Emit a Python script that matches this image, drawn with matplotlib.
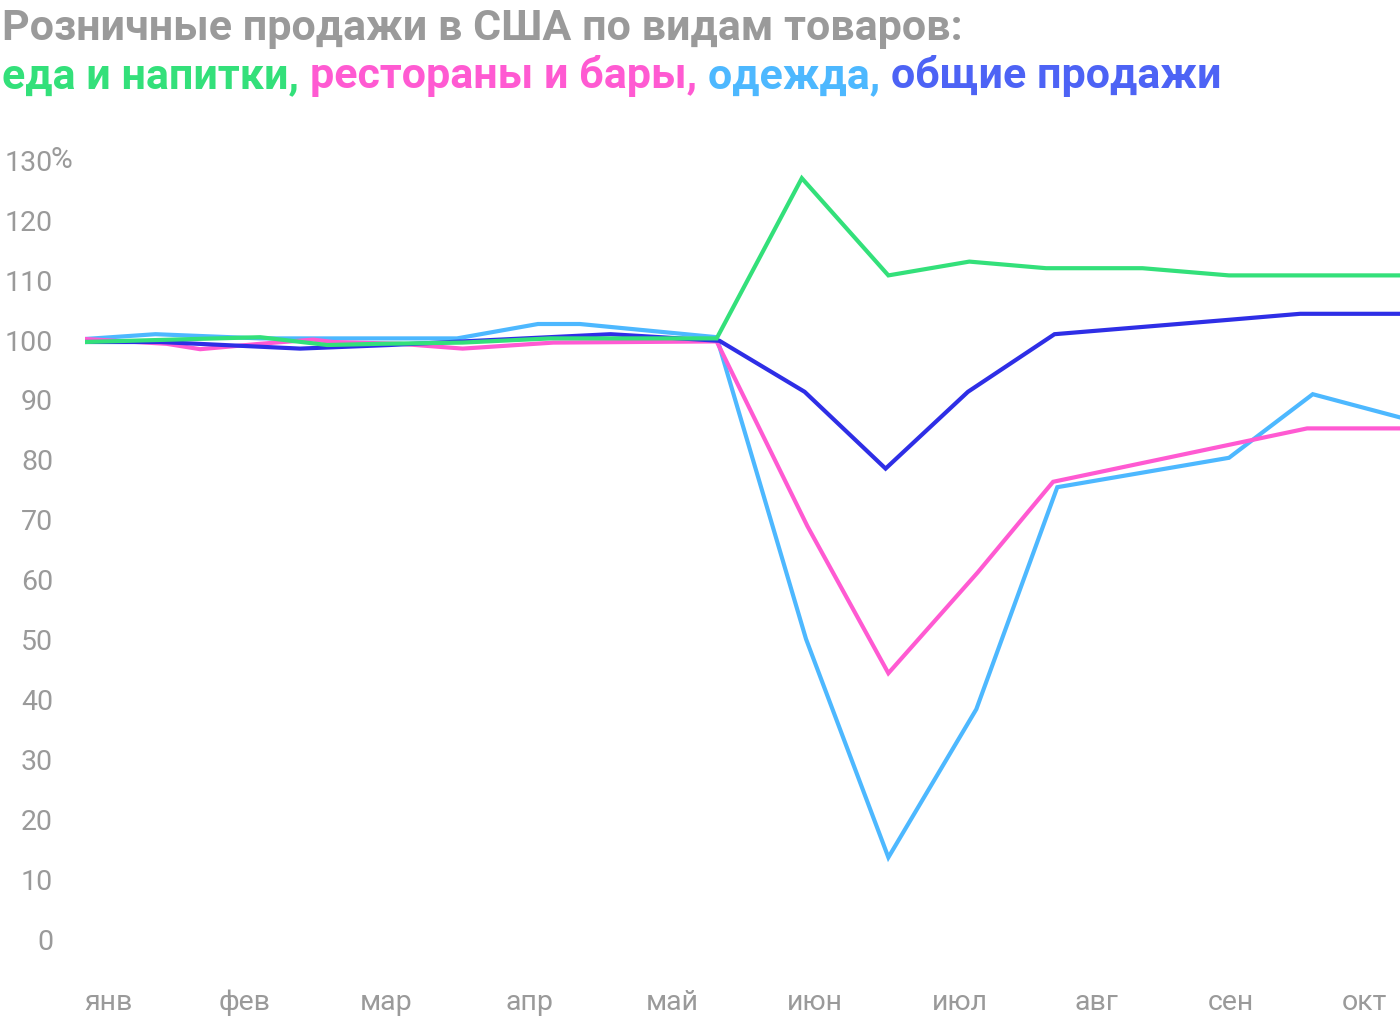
import matplotlib.pyplot as plt

# x is in months: 0 = янв label
months = ['янв', 'фев', 'мар', 'апр', 'май', 'июн', 'июл', 'авг', 'сен', 'окт']
month_pos = [0, 0.98, 1.99, 3.02, 4.04, 5.06, 6.10, 7.08, 8.04, 9.0]
yticks = [0, 10, 20, 30, 40, 50, 60, 70, 80, 90, 100, 110, 120, 130]

# еда и напитки
food_x = [-0.165, 1.09, 1.57, 1.95, 2.54, 3.17, 4.36, 4.97, 5.59, 6.17, 6.72, 7.41, 8.03, 9.26]
food_y = [99.5, 100.3, 99.0, 99.2, 99.4, 100.1, 100.1, 126.8, 110.6, 112.9, 111.8, 111.8, 110.6, 110.6]

# рестораны и бары
rest_x = [-0.165, 0.42, 0.66, 1.09, 1.47, 1.61, 2.09, 2.54, 3.19, 4.36, 5.01, 5.59, 6.23, 6.77, 8.59, 9.26]
rest_y = [100.0, 99.2, 98.3, 99.2, 99.9, 99.5, 99.2, 98.4, 99.4, 99.6, 68.8, 44.3, 61.1, 76.2, 85.1, 85.1]

# одежда
cloth_x = [-0.165, 0.34, 1.09, 2.50, 3.08, 3.38, 4.36, 5.00, 5.59, 6.22, 6.80, 8.03, 8.63, 9.26]
cloth_y = [100.0, 100.8, 100.1, 100.1, 102.5, 102.5, 100.3, 50.0, 13.6, 38.3, 75.3, 80.2, 90.8, 86.9]

# общие продажи
total_x = [-0.165, 0.37, 1.375, 2.02, 3.60, 4.38, 4.99, 5.57, 6.16, 6.78, 8.03, 8.54, 9.26]
total_y = [99.5, 99.5, 98.4, 99.0, 100.8, 99.7, 91.2, 78.4, 91.2, 100.8, 103.2, 104.2, 104.2]

GREEN = '#33e07a'
PINK = '#ff5ad2'
CYAN = '#4db8ff'
BLUE = '#2e2ee6'
BLUE_TXT = '#4d63f5'
GRAY = '#9a9a9a'

plt.rcParams['font.family'] = ['Roboto', 'DejaVu Sans']

W, H = 1400, 1020
fig = plt.figure(figsize=(W / 100, H / 100), dpi=100)
ax = fig.add_axes([85 / W, 80 / H, 1315 / W, 780 / H])

lw = 3.0
ax.plot(cloth_x, cloth_y, color=CYAN, lw=lw, solid_joinstyle='miter')
ax.plot(rest_x, rest_y, color=PINK, lw=lw, solid_joinstyle='miter')
ax.plot(total_x, total_y, color=BLUE, lw=lw, solid_joinstyle='miter')
ax.plot(food_x, food_y, color=GREEN, lw=lw, solid_joinstyle='miter')

ax.set_xlim(-0.165, 9.255)
ax.set_ylim(0, 130)
for s in ax.spines.values():
    s.set_visible(False)

# y labels right-aligned on the digits, "%" hangs after 130
ax.set_yticks(yticks)
ax.set_yticklabels([str(v) for v in yticks])
ax.tick_params(axis='y', length=0, pad=23, labelsize=20.5, labelcolor=GRAY)
ax.annotate('%', xy=(0, 130), xycoords=ax.get_yaxis_transform(),
            xytext=(-24.5, 0), textcoords='offset points', ha='left', va='center',
            fontsize=21.5, color=GRAY)

ax.set_xticks(month_pos)
ax.set_xticklabels(months)
ax.tick_params(axis='x', length=0, pad=35, labelsize=20.5, labelcolor=GRAY)

# title
fig.text(2 / W, 1 - 40 / H, 'Розничные продажи в США по видам товаров:',
         fontsize=31, fontweight='bold', color=GRAY, va='baseline')

parts = [('еда и напитки, ', GREEN), ('рестораны и бары, ', PINK),
         ('одежда, ', CYAN), ('общие продажи', BLUE_TXT)]
fig.canvas.draw()
r = fig.canvas.get_renderer()
x = 2
for txt, c in parts:
    t = fig.text(x / W, 1 - 88 / H, txt, fontsize=31, fontweight='bold', color=c, va='baseline')
    x += t.get_window_extent(renderer=r).width

fig.savefig('out.png', dpi=100)
